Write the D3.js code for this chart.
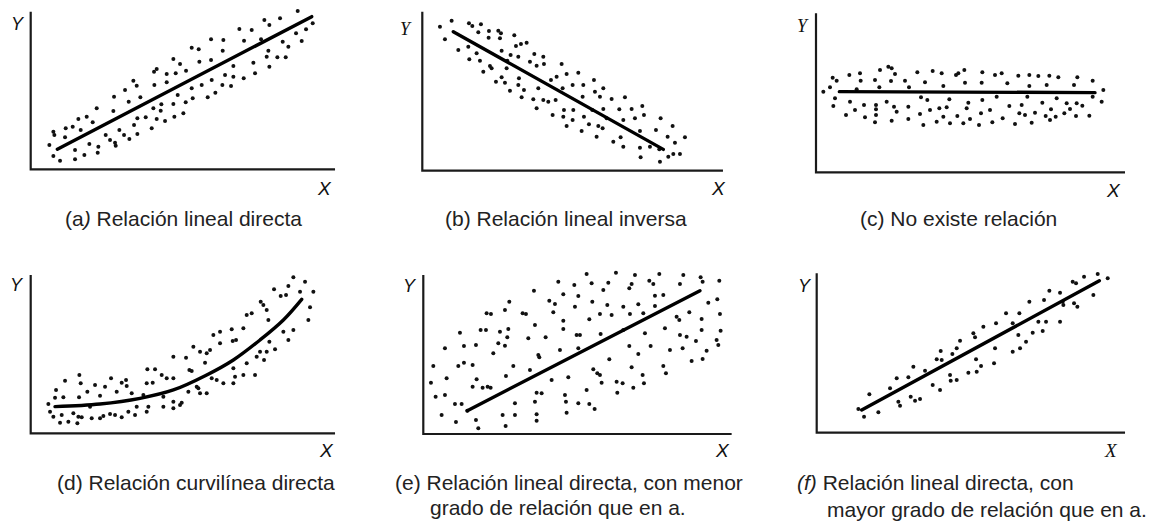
<!DOCTYPE html>
<html>
<head>
<meta charset="utf-8">
<script src="https://cdn.jsdelivr.net/npm/d3@7"></script>
<style>
  html, body { margin: 0; padding: 0; background: #fff; }
  svg { display: block; }
</style>
</head>
<body>
<svg id="chart" width="1163" height="527"></svg>
<script>
// Scatter patterns: each panel holds [x, y] observations in arbitrary units
const dotsA = [
  [801,475],[748,453],[701,448],[716,433],[846,438],[626,421],[663,418],[826,420],[796,408],
  [541,390],[578,388],[640,386],[691,390],[756,383],[813,385],[483,365],[504,360],[576,356],
  [713,356],[773,368],[428,331],[448,316],[506,323],[541,328],[668,320],[708,338],[740,336],
  [765,336],[608,310],[716,308],[378,301],[370,293],[466,296],[435,288],[408,286],[583,283],
  [673,288],[308,266],[318,251],[371,253],[408,261],[513,253],[543,268],[575,253],[601,250],
  [639,273],[608,278],[283,238],[250,218],[329,216],[483,243],[441,223],[486,213],[531,216],
  [554,230],[294,203],[198,183],[248,175],[368,183],[392,195],[390,176],[428,196],[465,201],
  [168,158],[143,151],[186,141],[320,153],[345,156],[378,151],[403,145],[431,158],[458,168],
  [126,128],[105,123],[150,118],[68,113],[310,133],[266,118],[363,123],[71,103],[103,96],
  [225,103],[280,103],[296,91],[320,106],[238,88],[56,73],[176,76],[203,68],[253,80],[255,71],
  [133,58],[161,43],[201,50],[68,40],[133,30],[88,26]
];
const dotsB = [
  [53,432],[88,450],[68,394],[108,362],[140,442],[150,434],[176,439],[168,415],[200,419],
  [228,420],[236,412],[199,399],[233,397],[276,406],[281,374],[296,380],[313,384],[138,372],
  [163,352],[141,334],[173,330],[203,314],[208,307],[183,297],[238,360],[255,330],[265,347],
  [288,342],[323,327],[336,350],[363,342],[343,315],[365,320],[253,307],[238,280],[221,267],
  [248,264],[290,277],[288,257],[263,240],[305,242],[298,220],[333,214],[348,247],[363,212],
  [378,207],[400,212],[386,272],[403,282],[418,320],[433,290],[468,294],[451,257],[421,247],
  [483,257],[515,272],[543,247],[518,237],[533,222],[481,222],[568,215],[608,220],[343,187],
  [391,167],[425,182],[453,182],[423,162],[451,152],[485,162],[510,182],[543,185],[591,184],
  [628,185],[660,194],[665,167],[638,157],[603,152],[553,157],[500,139],[528,134],[541,127],
  [433,134],[478,119],[523,102],[573,87],[595,100],[603,72],[653,69],[655,40],[683,72],
  [711,64],[701,122],[715,157],[751,134],[758,84],[736,102],[788,100],[738,42],[753,50],
  [773,50],[713,27],[653,119]
];
const dotsC = [
  [22,242],[42,255],[50,284],[62,275],[100,292],[132,297],[134,275],[177,277],[192,307],
  [190,255],[217,317],[227,312],[237,295],[225,274],[267,275],[279,255],[304,300],[327,270],
  [350,304],[377,297],[382,259],[420,292],[427,297],[445,307],[447,269],[499,300],[497,269],
  [537,292],[557,297],[574,267],[607,290],[640,292],[640,259],[667,289],[700,290],[692,262],
  [727,285],[774,262],[784,285],[830,275],[862,247],[122,249],
  [57,222],[52,199],[102,212],[117,187],[90,172],[144,202],[147,165],[180,202],[180,189],
  [180,172],[177,150],[212,212],[227,155],[234,197],[242,182],[277,197],[277,160],[315,225],
  [334,217],[312,175],[322,142],[342,187],[362,152],[370,192],[382,167],[400,219],[392,195],
  [402,147],[424,169],[442,147],[452,192],[457,209],[462,160],[489,142],[495,177],[499,217],
  [522,187],[529,150],[542,227],[560,162],[580,199],[597,145],[610,177],[617,202],[627,172],
  [634,227],[647,149],[657,179],[679,209],[689,169],[702,157],[705,189],[719,167],[722,222],
  [745,177],[752,207],[762,190],[782,207],[780,169],[799,200],[820,170],[857,212],[830,227]
];
const dotsD = [
  [788,468],[823,455],[848,425],[730,432],[773,442],[750,412],[766,415],[808,425],[690,395],
  [698,385],[708,370],[713,340],[648,355],[663,360],[838,378],[833,340],[758,305],[788,310],
  [773,280],[716,275],[733,252],[708,245],[688,245],[700,220],[678,230],[548,295],[568,305],
  [603,312],[638,315],[606,277],[616,280],[568,270],[538,250],[528,240],[508,245],[488,260],
  [466,227],[428,230],[476,190],[483,187],[428,165],[408,165],[393,175],[373,192],[350,192],
  [348,150],[366,152],[558,160],[578,150],[543,165],[523,212],[608,195],[613,170],[638,175],
  [648,210],[673,175],[608,150],[498,140],[508,120],[528,120],[473,125],[448,85],[453,92],
  [428,95],[428,75],[398,110],[398,80],[353,80],[348,65],[318,80],[313,55],[286,160],[288,142],
  [273,152],[241,165],[223,140],[208,113],[193,145],[170,125],[150,150],[145,108],[146,175],
  [103,158],[76,130],[73,107],[98,108],[53,88],[58,65],[68,50],[93,55],[88,32],[113,35],
  [128,60],[143,50],[140,30],[153,48],[183,45],[208,45],[218,52],[238,58],[253,55],[273,48],
  [293,65],[303,120],[338,115],[258,125],[503,135],[178,80]
];
const dotsE = [
  [490,480],[578,484],[635,477],[708,480],[780,477],[832,470],[838,457],[888,460],[405,457],
  [453,447],[505,452],[555,454],[625,450],[618,437],[678,460],[690,450],[770,450],[332,430],
  [420,419],[465,414],[540,432],[695,415],[720,417],[378,400],[395,390],[455,382],[507,397],
  [552,387],[600,382],[645,389],[695,384],[855,394],[882,404],[258,397],[190,362],[203,360],
  [245,372],[298,362],[308,360],[390,365],[420,340],[498,344],[530,360],[565,357],[620,360],
  [660,362],[760,352],[768,342],[798,365],[835,345],[890,360],[335,327],[110,304],[172,312],
  [188,312],[230,307],[255,315],[252,290],[225,272],[245,265],[315,287],[367,290],[420,315],
  [460,297],[470,297],[532,300],[600,312],[665,302],[725,317],[770,297],[790,292],[818,279],
  [835,312],[892,310],[880,282],[885,267],[122,264],[65,257],[158,267],[465,257],[410,252],
  [618,264],[645,240],[682,264],[740,252],[778,257],[850,250],[210,242],[345,237],[348,230],
  [30,204],[105,204],[122,214],[148,207],[270,204],[558,224],[510,194],[522,182],[530,177],
  [625,200],[720,204],[728,182],[805,219],[838,225],[23,154],[70,167],[160,164],[178,139],
  [193,142],[202,139],[148,142],[248,174],[320,192],[385,162],[435,170],[535,154],[580,157],
  [598,152],[630,139],[658,177],[662,152],[582,124],[490,132],[37,112],[65,117],[95,90],
  [115,90],[340,124],[355,122],[335,97],[275,92],[425,117],[428,97],[465,92],[498,90],
  [514,75],[430,64],[132,70],[55,57],[98,36],[158,42],[165,17],[238,57],[247,24],[275,57],
  [340,59],[340,40]
];
const dotsF = [
  [125,71],[142,48],[158,115],[185,61],[220,133],[240,163],[275,166],[290,198],[325,186],
  [245,93],[250,81],[282,108],[295,96],[310,101],[348,143],[370,128],[360,220],[375,218],
  [372,245],[407,236],[420,253],[430,276],[400,173],[420,158],[402,156],[455,180],[480,183],
  [470,298],[475,286],[478,220],[493,200],[500,318],[532,208],[538,328],[535,253],[568,358],
  [588,243],[588,328],[608,358],[610,253],[605,293],[628,273],[638,393],[648,300],[665,333],
  [678,305],[682,398],[688,333],[698,426],[730,420],[730,333],[740,383],[738,393],[768,453],
  [778,448],[772,388],[782,378],[802,468],[830,413],[843,476],[873,463]
];

// Fitted trends
const fitA = [[80,60],[843,458]];
const fitB = [[93,417],[723,64]];
const fitC = [[70,242],[837,239]];
const fitD = [[73,80],[208,88],[328,105],[428,130],[528,175],[608,220],[688,280],[758,340],[813,402]];
const fitE = [[132,70],[830,430]];
const fitF = [[135,68],[848,456]];

// Captions
const captionsA = ["(a", ") Relación lineal directa"];
const captionB = "(b) Relación lineal inversa";
const captionC = "(c) No existe relación";
const captionD = "(d) Relación curvilínea directa";
const captionE = ["(e) Relación lineal directa, con menor", "grado de relación que en a."];
const captionF = ["(f)", " Relación lineal directa, con", "mayor grado de relación que en a."];

const axisNames = { x: "X", y: "Y" };

// Panel layout (pixel frame of each small plot)
const SANS = "'Liberation Sans', Arial, sans-serif";
const SERIF = "'Liberation Serif', 'Times New Roman', serif";
const panels = [
  { dots: dotsA, fit: fitA, curved: false, ox: 30.7, oy: 169.3, xMax: 913, yMax: 473,
    yLab: [11, 30, SANS], xLab: [318, 195, SANS] },
  { dots: dotsB, fit: fitB, curved: false, ox: 422.3, oy: 170.7, xMax: 902, yMax: 477,
    yLab: [400, 35, SERIF], xLab: [712, 195, SANS] },
  { dots: dotsC, fit: fitC, curved: false, ox: 816, oy: 172.3, xMax: 927, yMax: 477,
    yLab: [797, 32, SERIF], xLab: [1107, 197, SANS] },
  { dots: dotsD, fit: fitD, curved: true, ox: 30.7, oy: 433.3, xMax: 913, yMax: 475,
    yLab: [10, 291, SANS], xLab: [320, 457, SANS] },
  { dots: dotsE, fit: fitE, curved: false, ox: 423.3, oy: 434, xMax: 925, yMax: 477,
    yLab: [403, 292, SANS], xLab: [716, 457, SANS] },
  { dots: dotsF, fit: fitF, curved: false, ox: 816.7, oy: 432.7, xMax: 925, yMax: 478,
    yLab: [798, 292, SANS], xLab: [1105, 457, SERIF] }
];

const svg = d3.select("#chart");
const PX_PER_UNIT = 1 / 3;

panels.forEach(p => {
  const x = d3.scaleLinear().domain([0, p.xMax]).range([p.ox, p.ox + p.xMax * PX_PER_UNIT]);
  const y = d3.scaleLinear().domain([0, p.yMax]).range([p.oy, p.oy - p.yMax * PX_PER_UNIT]);
  const g = svg.append("g");

  // L-shaped frame
  g.append("path")
    .attr("d", `M${x(0)},${y(p.yMax)}L${x(0)},${y(0)}L${x(p.xMax)},${y(0)}`)
    .attr("fill", "none")
    .attr("stroke", "#1a1a1a")
    .attr("stroke-width", 2.2);

  // observations
  g.selectAll("circle")
    .data(p.dots)
    .join("circle")
    .attr("cx", d => x(d[0]))
    .attr("cy", d => y(d[1]))
    .attr("r", 2.0)
    .attr("fill", "#111");

  // trend
  const line = d3.line().x(d => x(d[0])).y(d => y(d[1]))
    .curve(p.curved ? d3.curveCatmullRom : d3.curveLinear);
  g.append("path")
    .attr("d", line(p.fit))
    .attr("fill", "none")
    .attr("stroke", "#000")
    .attr("stroke-width", 3.4)
    .attr("stroke-linecap", "round");

  // axis names
  g.append("text")
    .attr("x", p.yLab[0]).attr("y", p.yLab[1])
    .attr("font-family", p.yLab[2]).attr("font-style", "italic")
    .attr("font-size", 18).attr("fill", "#111")
    .text(axisNames.y);
  g.append("text")
    .attr("x", p.xLab[0]).attr("y", p.xLab[1])
    .attr("font-family", p.xLab[2]).attr("font-style", "italic")
    .attr("font-size", 19).attr("fill", "#111")
    .text(axisNames.x);
});

// captions under each panel
const cap = (x, yb) => svg.append("text")
  .attr("x", x).attr("y", yb)
  .attr("font-family", SANS).attr("font-size", 21).attr("fill", "#222");

const ta = cap(65, 226);
ta.append("tspan").text(captionsA[0]);
ta.append("tspan").attr("font-style", "italic").text(captionsA[1].slice(0, 1));
ta.append("tspan").text(captionsA[1].slice(1));

cap(445, 226).text(captionB);
cap(860, 226).text(captionC);
cap(57, 490).text(captionD);
cap(395, 490).text(captionE[0]);
cap(430, 515).text(captionE[1]);

const tf = cap(797, 490);
tf.append("tspan").attr("font-style", "italic").text(captionF[0]);
tf.append("tspan").text(captionF[1]);
cap(827, 517).text(captionF[2]);
</script>
</body>
</html>
